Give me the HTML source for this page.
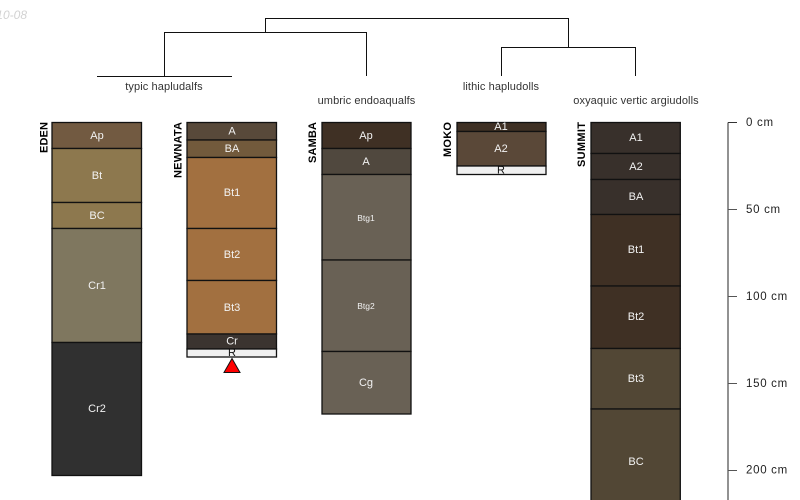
<!DOCTYPE html>
<html>
<head>
<meta charset="utf-8">
<style>
html,body{margin:0;padding:0;background:#fff;width:800px;height:500px;overflow:hidden}
svg{display:block}
text{font-family:"Liberation Sans",sans-serif}
.h{fill:#f2f2f2;font-size:11px;text-anchor:middle;dominant-baseline:central}
.s{font-size:8.5px}
.t{fill:#333;font-size:11px;letter-spacing:.1px;text-anchor:middle}
.n{fill:#000;font-size:11px;font-weight:bold}
.a{fill:#222;font-size:11.5px;letter-spacing:.7px}
rect{stroke:#111;stroke-width:1.3}
</style>
</head>
<body>
<svg width="800" height="500" viewBox="0 0 800 500" xmlns="http://www.w3.org/2000/svg">
<text x="27" y="19" font-size="12" font-style="italic" fill="#d2d2d2" text-anchor="end">2010-08</text>

<g fill="none" stroke="#111" stroke-width="1">
<path d="M265.5 32V18.5H568.5V47"/>
<path d="M164.5 76V32.5H366.5V76"/>
<path d="M97 76.5H232"/>
<path d="M501.5 76V47.5H635.5V76"/>
</g>
<text class="t" x="164" y="90">typic hapludalfs</text>
<text class="t" x="366.5" y="104">umbric endoaqualfs</text>
<text class="t" x="501" y="90">lithic hapludolls</text>
<text class="t" x="636" y="104">oxyaquic vertic argiudolls</text>

<!-- EDEN -->
<rect x="52" y="122.5" width="89.5" height="26" fill="#725a41"/>
<rect x="52" y="148.5" width="89.5" height="54" fill="#8d784e"/>
<rect x="52" y="202.5" width="89.5" height="26" fill="#8d784e"/>
<rect x="52" y="228.5" width="89.5" height="114" fill="#7f775f"/>
<rect x="52" y="342.5" width="89.5" height="133" fill="#303030"/>
<text class="h" x="97" y="136">Ap</text>
<text class="h" x="97" y="176">Bt</text>
<text class="h" x="97" y="216">BC</text>
<text class="h" x="97" y="286">Cr1</text>
<text class="h" x="97" y="409">Cr2</text>
<text class="n" transform="translate(47.5,153) rotate(-90)" textLength="31">EDEN</text>

<!-- NEWNATA -->
<rect x="187" y="122.5" width="89.5" height="17.5" fill="#58493a"/>
<rect x="187" y="140" width="89.5" height="17.5" fill="#725a3c"/>
<rect x="187" y="157.5" width="89.5" height="71" fill="#a27040"/>
<rect x="187" y="228.5" width="89.5" height="52" fill="#a27040"/>
<rect x="187" y="280.5" width="89.5" height="53.5" fill="#a27040"/>
<rect x="187" y="334" width="89.5" height="15" fill="#3b3430"/>
<rect x="187" y="349" width="89.5" height="8" fill="#f0f0f0"/>
<text class="h" x="232" y="131.5">A</text>
<text class="h" x="232" y="149">BA</text>
<text class="h" x="232" y="193">Bt1</text>
<text class="h" x="232" y="255">Bt2</text>
<text class="h" x="232" y="308">Bt3</text>
<text class="h" x="232" y="341.5">Cr</text>
<text class="h" x="232" y="353" style="fill:#111">R</text>
<path d="M224 372.5L232 358.5L240 372.5Z" fill="#f00" stroke="#111" stroke-width="1"/>
<text class="n" transform="translate(181.5,178) rotate(-90)" textLength="56">NEWNATA</text>

<!-- SAMBA -->
<rect x="322" y="122.5" width="89" height="26" fill="#3f3024"/>
<rect x="322" y="148.5" width="89" height="26" fill="#50483e"/>
<rect x="322" y="174.5" width="89" height="85.5" fill="#696155"/>
<rect x="322" y="260" width="89" height="91.5" fill="#696155"/>
<rect x="322" y="351.5" width="89" height="62.5" fill="#696155"/>
<text class="h" x="366" y="136">Ap</text>
<text class="h" x="366" y="162">A</text>
<text class="h s" x="366" y="218">Btg1</text>
<text class="h s" x="366" y="306">Btg2</text>
<text class="h" x="366" y="383">Cg</text>
<text class="n" transform="translate(316,163) rotate(-90)" textLength="41">SAMBA</text>

<!-- MOKO -->
<rect x="457" y="122.5" width="89" height="9" fill="#3f3024"/>
<rect x="457" y="131.5" width="89" height="34.5" fill="#5a4838"/>
<rect x="457" y="166" width="89" height="8.5" fill="#f0f0f0"/>
<text class="h" x="501" y="127">A1</text>
<text class="h" x="501" y="149">A2</text>
<text class="h" x="501" y="170.5" style="fill:#111">R</text>
<text class="n" transform="translate(451,157) rotate(-90)" textLength="35">MOKO</text>

<!-- SUMMIT -->
<rect x="591" y="122.5" width="89.3" height="31" fill="#38302b"/>
<rect x="591" y="153.5" width="89.3" height="26" fill="#38302b"/>
<rect x="591" y="179.5" width="89.3" height="35" fill="#38302b"/>
<rect x="591" y="214.5" width="89.3" height="71.5" fill="#3f3024"/>
<rect x="591" y="286" width="89.3" height="62.5" fill="#3f3024"/>
<rect x="591" y="348.5" width="89.3" height="60.5" fill="#524735"/>
<rect x="591" y="409" width="89.3" height="100" fill="#524735"/>
<text class="h" x="636" y="138">A1</text>
<text class="h" x="636" y="167">A2</text>
<text class="h" x="636" y="197">BA</text>
<text class="h" x="636" y="250">Bt1</text>
<text class="h" x="636" y="317">Bt2</text>
<text class="h" x="636" y="379">Bt3</text>
<text class="h" x="636" y="462">BC</text>
<text class="n" transform="translate(585,167) rotate(-90)" textLength="45">SUMMIT</text>

<!-- Axis -->
<path d="M728 500V122.5" fill="none" stroke="#777" stroke-width="1.6"/>
<path d="M728 122.5H737" fill="none" stroke="#333" stroke-width="1"/>
<path d="M728 209.5H737M728 296.5H737M728 383.5H737M728 470.5H737" fill="none" stroke="#555" stroke-width="1"/>
<text class="a" x="746" y="126">0 cm</text>
<text class="a" x="746" y="213">50 cm</text>
<text class="a" x="746" y="300">100 cm</text>
<text class="a" x="746" y="387">150 cm</text>
<text class="a" x="746" y="473.5">200 cm</text>
</svg>
</body>
</html>
